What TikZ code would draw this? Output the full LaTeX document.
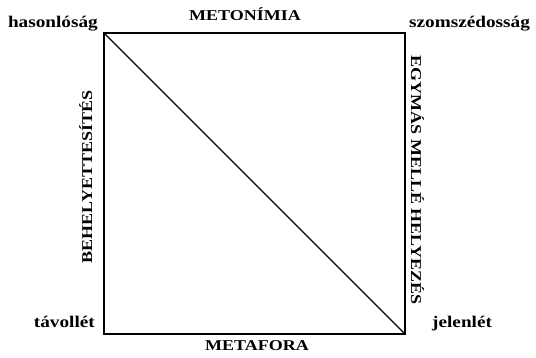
\documentclass[tikz,border=0pt]{standalone}
\usepackage{graphicx}
\usepackage{fontspec}
\setmainfont{Liberation Serif}
\newcommand{\lctext}[1]{\scalebox{1.18}[1]{#1}}
\newcommand{\uctext}[1]{\scalebox{1.2}[1]{#1}}
\begin{document}
\begin{tikzpicture}[x=1pt,y=1pt,
  lbl/.style={font=\bfseries\fontsize{16.3}{19}\selectfont, inner sep=0pt},
  captxt/.style={font=\bfseries\fontsize{15}{18}\selectfont, inner sep=0pt},
  edge/.style={line width=1.5pt},
  diag/.style={line width=1.1pt}]
\useasboundingbox (0,0) rectangle (536,358);
\coordinate (TL) at (104,325);
\coordinate (TR) at (405,325);
\coordinate (BL) at (104,24);
\coordinate (BR) at (405,24);
\draw[edge] (TL) -- (TR) -- (BR) -- (BL) -- cycle;
\draw[diag] (TL) -- (BR);
\node[lbl, anchor=base east] (hason) at (98,330) {\lctext{hasonlóság}};
\node[lbl, anchor=base west] (szom) at (409,330) {\lctext{szomszédosság}};
\node[lbl, anchor=base east] (tav) at (95,30) {\lctext{távollét}};
\node[lbl, anchor=base west] (jel) at (432,30) {\lctext{jelenlét}};
\node[captxt, anchor=base] (meto) at (245,337) {\uctext{METONÍMIA}};
\node[captxt, anchor=base] (meta) at (257,7) {\uctext{METAFORA}};
\node[captxt, rotate=90, anchor=base] (beh) at (92,181) {\uctext{BEHELYETTESÍTÉS}};
\node[captxt, rotate=-90, anchor=base] (egy) at (411,178) {\uctext{EGYMÁS MELLÉ HELYEZÉS}};
\end{tikzpicture}
\end{document}
